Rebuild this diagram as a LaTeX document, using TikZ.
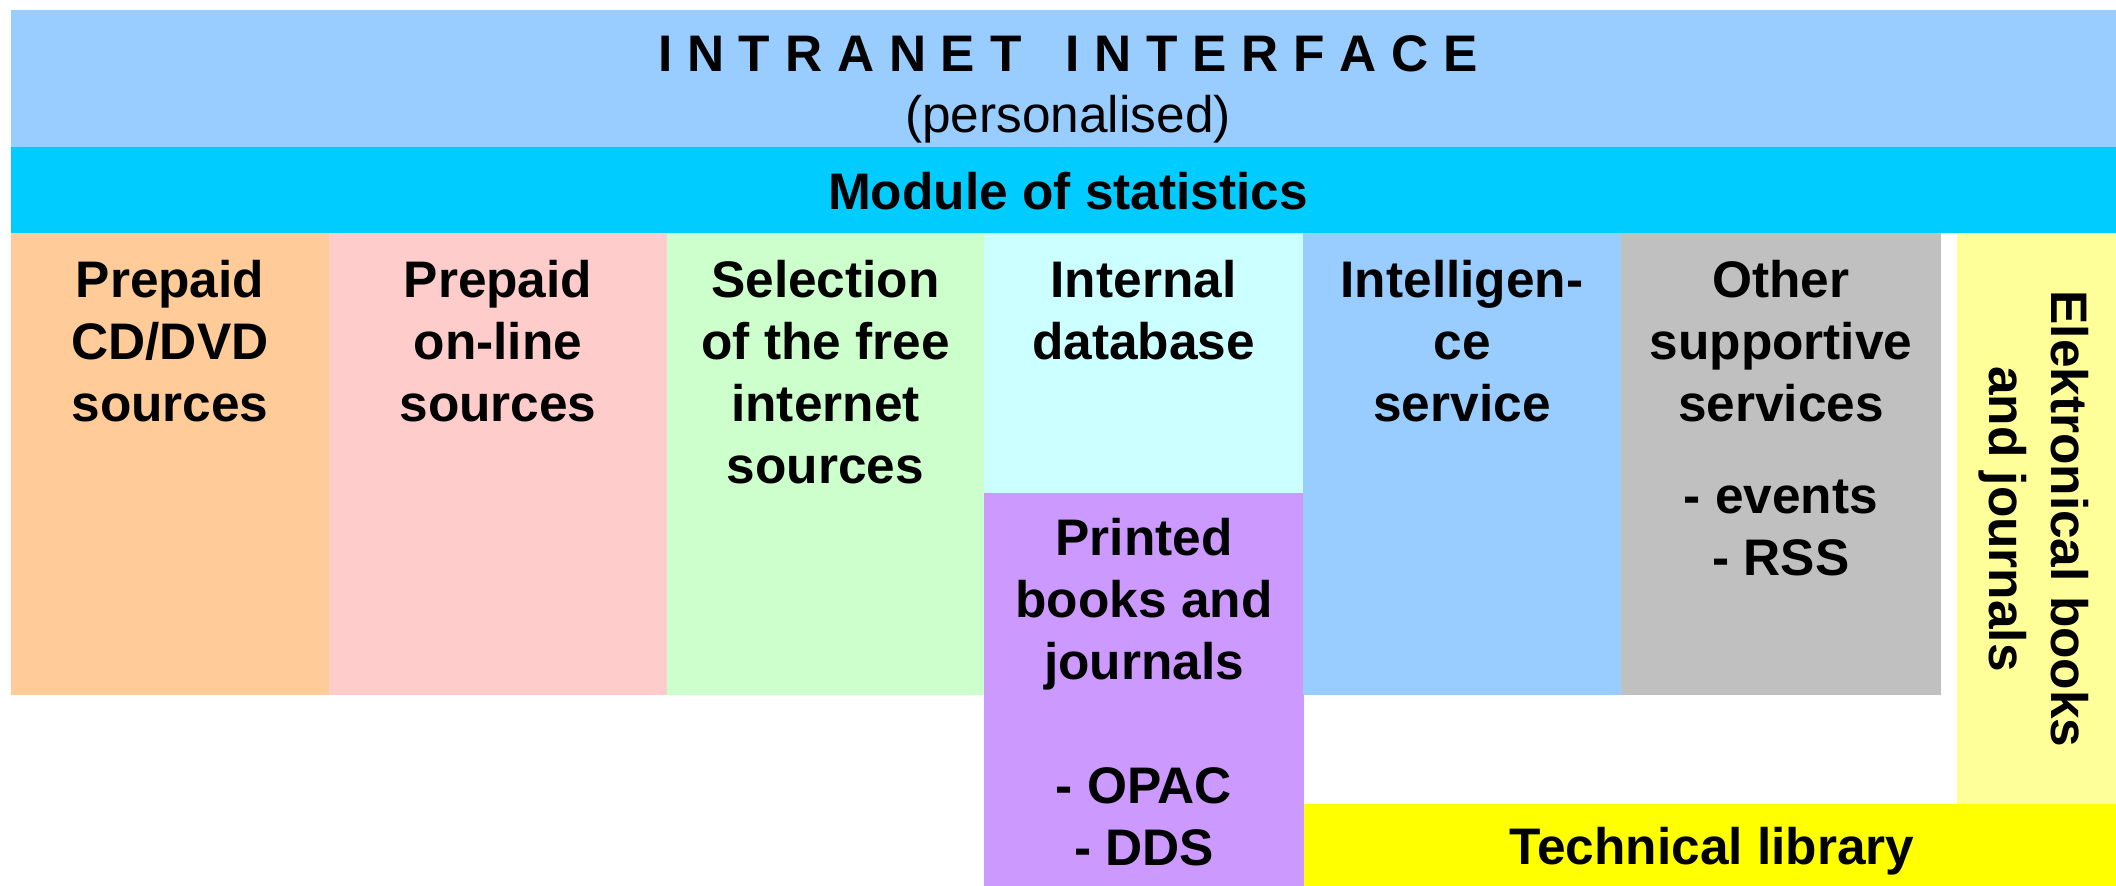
\documentclass[tikz,border=0pt]{standalone}
\usepackage{fontspec}
\setmainfont{Liberation Sans}
\newcommand\lsp{\hspace{7.4pt}}
\definecolor{cTitle}{HTML}{99CCFF}
\definecolor{cModule}{HTML}{00CCFF}
\definecolor{cOrange}{HTML}{FFCC99}
\definecolor{cPink}{HTML}{FFCCCC}
\definecolor{cGreen}{HTML}{CCFFCC}
\definecolor{cLightCyan}{HTML}{CCFFFF}
\definecolor{cPurple}{HTML}{CC99FF}
\definecolor{cBlue}{HTML}{99CCFF}
\definecolor{cGray}{HTML}{C0C0C0}
\definecolor{cLightYellow}{HTML}{FFFF99}
\definecolor{cYellow}{HTML}{FFFF00}
\begin{document}
\begin{tikzpicture}[x=0.5pt,y=-0.5pt,
  bigfont/.style={font=\fontsize{25.7}{31}\selectfont\bfseries},
  lbl/.style={bigfont, align=center, inner sep=0pt, anchor=north},
  one/.style={bigfont, inner sep=0pt, anchor=base}]
\useasboundingbox (0,0) rectangle (2116,886);
% blocks
\fill[cTitle] (11,10) rectangle (2116,147);
\fill[cModule] (11,147) rectangle (2116,233);
\fill[cOrange] (11,233) rectangle (329,695);
\fill[cPink] (329,233) rectangle (667,695);
\fill[cGreen] (667,233) rectangle (984,695);
\fill[cLightCyan] (984,233) rectangle (1303,493);
\fill[cPurple] (984,493) rectangle (1304,886);
\fill[cBlue] (1303,233) rectangle (1621,695);
\fill[cGray] (1621,233) rectangle (1941,695);
\fill[cLightYellow] (1957,233) rectangle (2116,804);
\fill[cYellow] (1304,804) rectangle (2116,886);
% texts
\node[one] (title) at (1068,72) {I\lsp N\lsp T\lsp R\lsp A\lsp N\lsp E\lsp T\hspace{22pt}I\lsp N\lsp T\lsp E\lsp R\lsp F\lsp A\lsp C\lsp E};
\node[one, font=\fontsize{25.7}{31}\selectfont] (pers) at (1068,133) {(personalised)};
\node[one] (module) at (1068,210) {Module of statistics};
\node[lbl] (cd) at (170,253.6) {\strut Prepaid\\CD/DVD\\sources};
\node[lbl] (online) at (498,253.6) {\strut Prepaid\\on-line\\sources};
\node[lbl] (free) at (825.5,253.6) {\strut Selection\\of the free\\internet\\sources};
\node[lbl] (intdb) at (1143.5,253.6) {\strut Internal\\database};
\node[lbl] (intel) at (1462,253.6) {\strut Intelligen-\\ce\\service};
\node[lbl] (other) at (1781,253.6) {\strut Other\\supportive\\services\\[15pt]- events\\- RSS};
\node[lbl] (printed) at (1144,511.6) {\strut Printed\\books and\\journals\\[31pt]- OPAC\\- DDS};
\node[one] (techlib) at (1712,865) {Technical library};
\node[bigfont, align=center, inner sep=0pt, rotate=-90] (elec) at (2034,519) {Elektronical books\\and journals};
\end{tikzpicture}
\end{document}
